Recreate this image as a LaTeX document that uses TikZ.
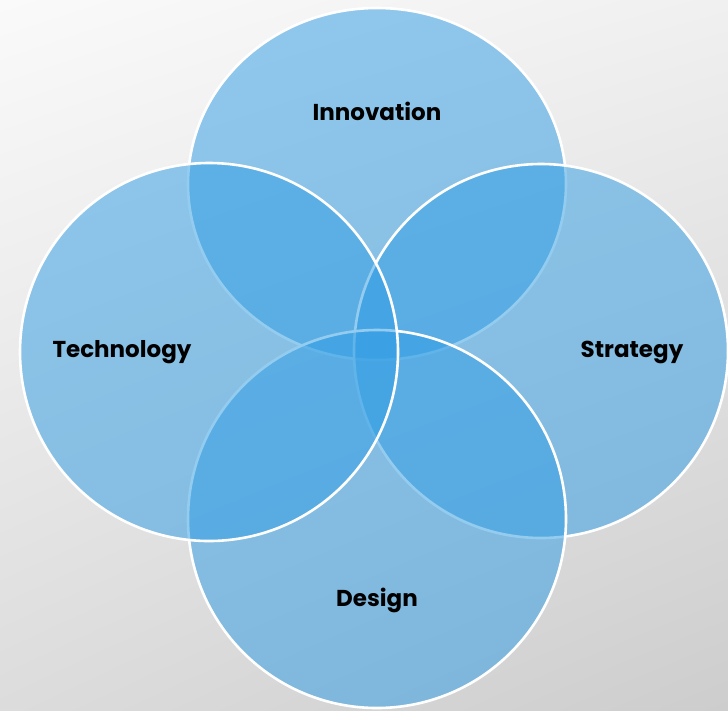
\documentclass[tikz,border=0pt]{standalone}
\usepackage{fontspec}
\setmainfont{Poppins}
\usetikzlibrary{shapes.geometric,shadings}
\definecolor{bubblefill}{RGB}{50,158,228}
\definecolor{paperhi}{RGB}{250,250,250}
\definecolor{paperlo}{RGB}{205,205,205}
\begin{document}
\begin{tikzpicture}[x=1pt,y=-1pt,
    bubble/.style={draw=white,line width=2.6pt,fill=bubblefill,fill opacity=0.52,
      draw opacity=1,inner sep=0pt,outer sep=0pt},
    tag/.style={font=\fontsize{23}{27}\selectfont\bfseries,text=black}]
    %% background
    \shade[upper left=paperhi,upper right=paperhi!96!black,
      lower left=paperlo!70!white,lower right=paperlo] (0,0) rectangle (728,710);
    \useasboundingbox (0,0) rectangle (728,710);
    %% bubbles, last one on top
    \node[bubble,ellipse,minimum width=378pt,minimum height=352pt] (inno) at (377,184) {};
    \node[bubble,circle,minimum size=374pt] (strat) at (541,351) {};
    \node[bubble,circle,minimum size=378pt] (design) at (377,519) {};
    \node[bubble,circle,minimum size=378pt] (tech) at (209,352) {};
    %% labels
    \node[tag] (innolbl) at (377,111) {Innovation};
    \node[tag] (techlbl) at (122,352) {Technology};
    \node[tag] (stratlbl) at (632,352) {Strategy};
    \node[tag] (designlbl) at (377,600) {Design};
\end{tikzpicture}
\end{document}
